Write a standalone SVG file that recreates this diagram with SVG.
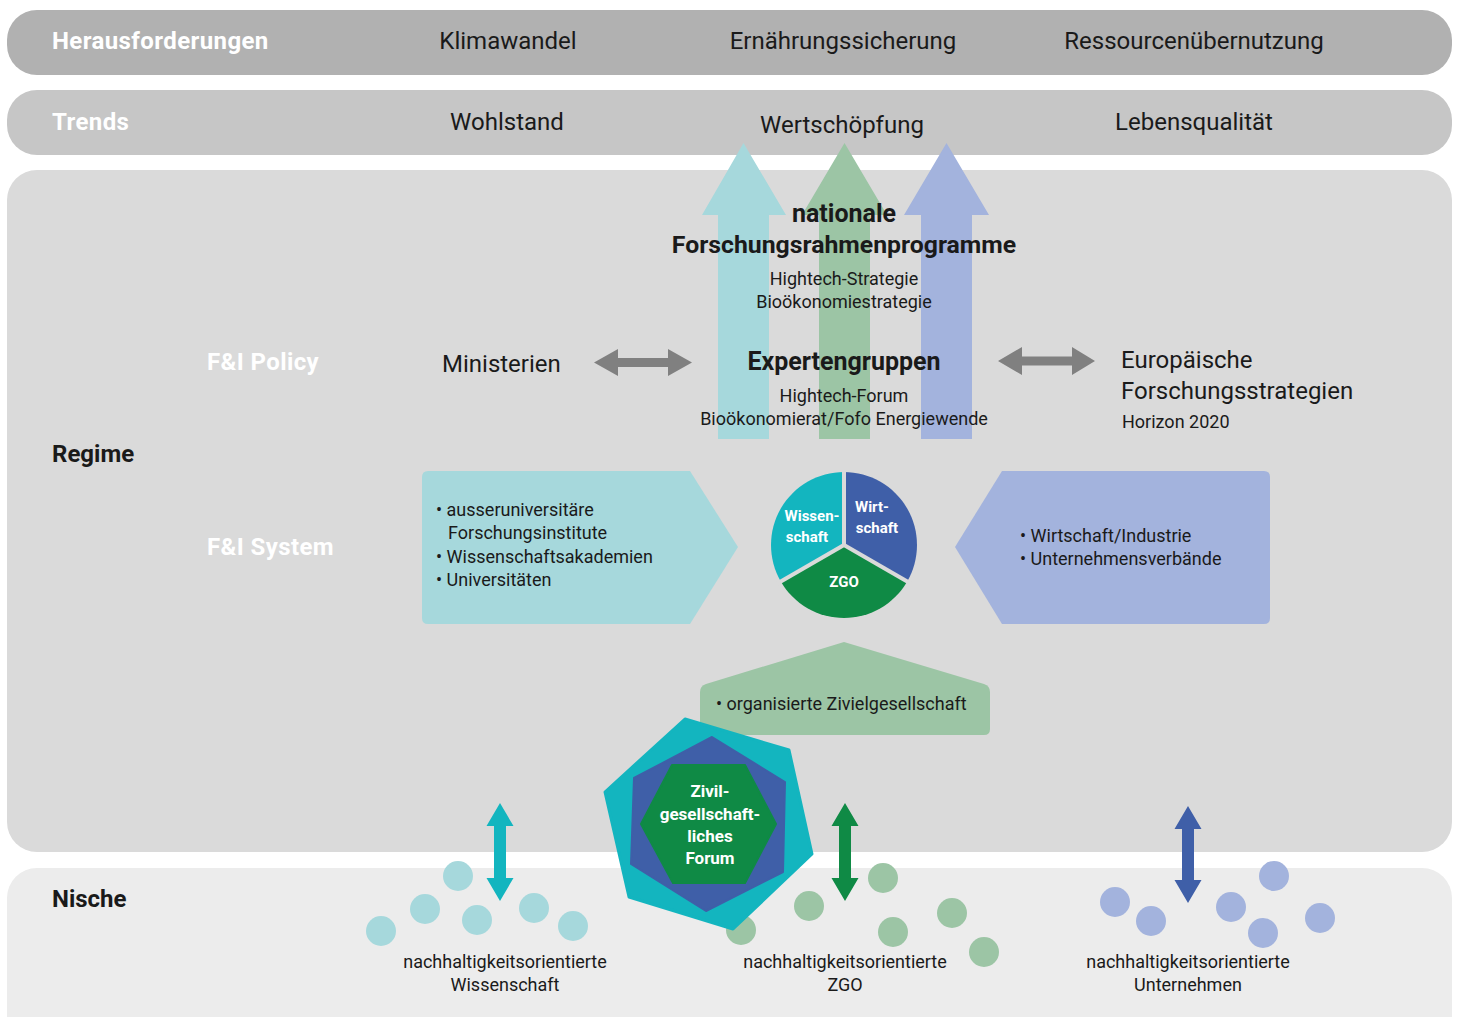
<svg xmlns="http://www.w3.org/2000/svg" width="1457" height="1017" viewBox="0 0 1457 1017">
  <style>
    text { font-family: Roboto, "Liberation Sans", sans-serif; fill: #1a1a1a; }
    .lg { font-size: 24px; }
    .md { font-size: 18px; }
    .b { font-weight: 700; }
    .w { fill: #ffffff; letter-spacing: 0.4px; }
    .c { text-anchor: middle; }
    .pie { font-size: 15px; font-weight: 700; fill: #ffffff; text-anchor: middle; }
    .hex { font-size: 17px; font-weight: 700; fill: #ffffff; text-anchor: middle; }
    .grey { fill: #808080; }
  </style>

  <!-- background bands -->
  <g id="bands">
    <rect x="7" y="10" width="1445" height="65" rx="30" fill="#b1b1b1"/>
    <rect x="7" y="90" width="1445" height="65" rx="30" fill="#c6c6c6"/>
    <rect x="7" y="170" width="1445" height="682" rx="30" fill="#dadada"/>
    <rect x="7" y="868" width="1445" height="180" rx="30" fill="#ececec"/>
  </g>

  <g id="row-challenges">
    <text class="lg b w" x="52" y="49">Herausforderungen</text>
    <text class="lg c" x="508" y="49">Klimawandel</text>
    <text class="lg c" x="843" y="49">Ernährungssicherung</text>
    <text class="lg c" x="1194" y="49">Ressourcenübernutzung</text>
  </g>

  <g id="row-trends">
    <text class="lg b w" x="52" y="130">Trends</text>
    <text class="lg c" x="507" y="130">Wohlstand</text>
    <text class="lg c" x="842" y="133">Wertschöpfung</text>
    <text class="lg c" x="1194" y="130">Lebensqualität</text>
  </g>

  <!-- upward block arrows -->
  <g id="up-arrows">
    <path d="M718,439 V215 H702 L743.5,143 L786,215 H769 V439 Z" fill="#a6d8dc"/>
    <path d="M819,439 V215 H802 L844.5,143 L887,215 H870 V439 Z" fill="#9cc5a5"/>
    <path d="M921,439 V215 H904 L946.5,143 L989,215 H972 V439 Z" fill="#a3b3dd"/>
  </g>

  <g id="labels-left">
    <text class="lg b w" x="207" y="370">F&amp;I Policy</text>
    <text class="lg b" x="52" y="462">Regime</text>
    <text class="lg b w" x="207" y="555">F&amp;I System</text>
    <text class="lg b" x="52" y="907">Nische</text>
  </g>

  <g id="node-programme">
    <text class="b c" x="844" y="222" style="font-size:25px">nationale</text>
    <text class="b c" x="844" y="253" style="font-size:24.8px">Forschungsrahmenprogramme</text>
    <text class="md c" x="844" y="285">Hightech-Strategie</text>
    <text class="md c" x="844" y="308">Bioökonomiestrategie</text>
  </g>

  <g id="node-experten">
    <text class="b c" x="844" y="370" style="font-size:25px">Expertengruppen</text>
    <text class="md c" x="844" y="402">Hightech-Forum</text>
    <text class="md c" x="844" y="425">Bioökonomierat/Fofo Energiewende</text>
  </g>

  <g id="node-ministerien">
    <text class="lg" x="442" y="372">Ministerien</text>
  </g>

  <g id="node-europa">
    <text class="lg" x="1121" y="368">Europäische</text>
    <text class="lg" x="1121" y="399">Forschungsstrategien</text>
    <text class="md" x="1122" y="428">Horizon 2020</text>
  </g>

  <!-- connectors -->
  <g id="connectors">
    <path class="grey" d="M594,362.5 L618,349 V358 H668 V349 L692,362.5 L668,376 V367 H618 V376 Z"/>
    <path class="grey" d="M998,361 L1022,347 V356.5 H1072 V347 L1095,361 L1072,375 V365.5 H1022 V375 Z"/>
    <path d="M500,803 L513.5,826 H506 V878 H513.5 L500,901 L486.5,878 H494 V826 H486.5 Z" fill="#13b5bf"/>
    <path d="M845,803 L858.5,826 H851 V878 H858.5 L845,901 L831.5,878 H839 V826 H831.5 Z" fill="#0f8a45"/>
    <path d="M1188,806 L1201.5,829 H1194 V880 H1201.5 L1188,903 L1174.5,880 H1182 V829 H1174.5 Z" fill="#3f5fa8"/>
  </g>

  <g id="node-wissenschaft-system">
    <path d="M428,471 H690 L738,547 L690,624 H428 Q422,624 422,618 V477 Q422,471 428,471 Z" fill="#a6d8dc"/>
    <text class="md" x="436" y="516">• ausseruniversitäre</text>
    <text class="md" x="448" y="539">Forschungsinstitute</text>
    <text class="md" x="436" y="563">• Wissenschaftsakademien</text>
    <text class="md" x="436" y="586">• Universitäten</text>
  </g>

  <g id="node-wirtschaft-system">
    <path d="M1264,471 H1002 L955,547 L1002,624 H1264 Q1270,624 1270,618 V477 Q1270,471 1264,471 Z" fill="#a3b3dd"/>
    <text class="md" x="1020" y="542">• Wirtschaft/Industrie</text>
    <text class="md" x="1020" y="565">• Unternehmensverbände</text>
  </g>

  <g id="node-pie">
    <path d="M844,545 L844,472 A73,73 0 0,0 780.8,581.5 Z" fill="#13b5bf"/>
    <path d="M844,545 L844,472 A73,73 0 0,1 907.2,581.5 Z" fill="#3f5fa8"/>
    <path d="M844,545 L907.2,581.5 A73,73 0 0,1 780.8,581.5 Z" fill="#0f8a45"/>
    <g stroke="#dadada" stroke-width="4" stroke-linecap="butt">
      <line x1="844" y1="546" x2="844" y2="468"/>
      <line x1="844" y1="545" x2="777.3" y2="583.5"/>
      <line x1="844" y1="545" x2="910.7" y2="583.5"/>
    </g>
    <text class="pie" x="812" y="521">Wissen-</text>
    <text class="pie" x="807" y="542">schaft</text>
    <text class="pie" x="872" y="512">Wirt-</text>
    <text class="pie" x="877" y="533">schaft</text>
    <text class="pie" x="844" y="587">ZGO</text>
  </g>

  <g id="node-zivilgesellschaft">
    <path d="M706,684 L844,642 L984,684 Q990,686 990,692 V729 Q990,735 984,735 H706 Q700,735 700,729 V692 Q700,686 706,684 Z" fill="#9cc5a5"/>
    <text class="md" x="716" y="710">• organisierte Zivielgesellschaft</text>
  </g>

  <g id="niche-dots">
    <g fill="#a6d8dc">
      <circle cx="458" cy="876" r="15"/>
      <circle cx="425" cy="909" r="15"/>
      <circle cx="381" cy="931" r="15"/>
      <circle cx="477" cy="920" r="15"/>
      <circle cx="534" cy="908" r="15"/>
      <circle cx="573" cy="926" r="15"/>
    </g>
    <g fill="#9cc5a5">
      <circle cx="741" cy="930" r="15"/>
      <circle cx="809" cy="906" r="15"/>
      <circle cx="883" cy="878" r="15"/>
      <circle cx="893" cy="932" r="15"/>
      <circle cx="952" cy="913" r="15"/>
      <circle cx="984" cy="952" r="15"/>
    </g>
    <g fill="#a3b3dd">
      <circle cx="1115" cy="902" r="15"/>
      <circle cx="1151" cy="921" r="15"/>
      <circle cx="1231" cy="907" r="15"/>
      <circle cx="1274" cy="876" r="15"/>
      <circle cx="1263" cy="933" r="15"/>
      <circle cx="1320" cy="918" r="15"/>
    </g>
  </g>

  <g id="node-forum">
    <polygon points="685,719 789,750 812,854 733,929 629,897 605,792" fill="#13b5bf" stroke="#13b5bf" stroke-width="3" stroke-linejoin="round"/>
    <polygon points="712,737 785,782 783,872 706,911 631,864 634,778" fill="#3f5fa8" stroke="#3f5fa8" stroke-width="2" stroke-linejoin="round"/>
    <polygon points="641,824 672,765 745,765 776,824 745,883 673,883" fill="#0f8a45" stroke="#0f8a45" stroke-width="2" stroke-linejoin="round"/>
    <text class="hex" x="710" y="797">Zivil-</text>
    <text class="hex" x="710" y="820">gesellschaft-</text>
    <text class="hex" x="710" y="842">liches</text>
    <text class="hex" x="710" y="864">Forum</text>
  </g>

  <g id="niche-labels">
    <text class="md c" x="505" y="968">nachhaltigkeitsorientierte</text>
    <text class="md c" x="505" y="991">Wissenschaft</text>
    <text class="md c" x="845" y="968">nachhaltigkeitsorientierte</text>
    <text class="md c" x="845" y="991">ZGO</text>
    <text class="md c" x="1188" y="968">nachhaltigkeitsorientierte</text>
    <text class="md c" x="1188" y="991">Unternehmen</text>
  </g>
</svg>
